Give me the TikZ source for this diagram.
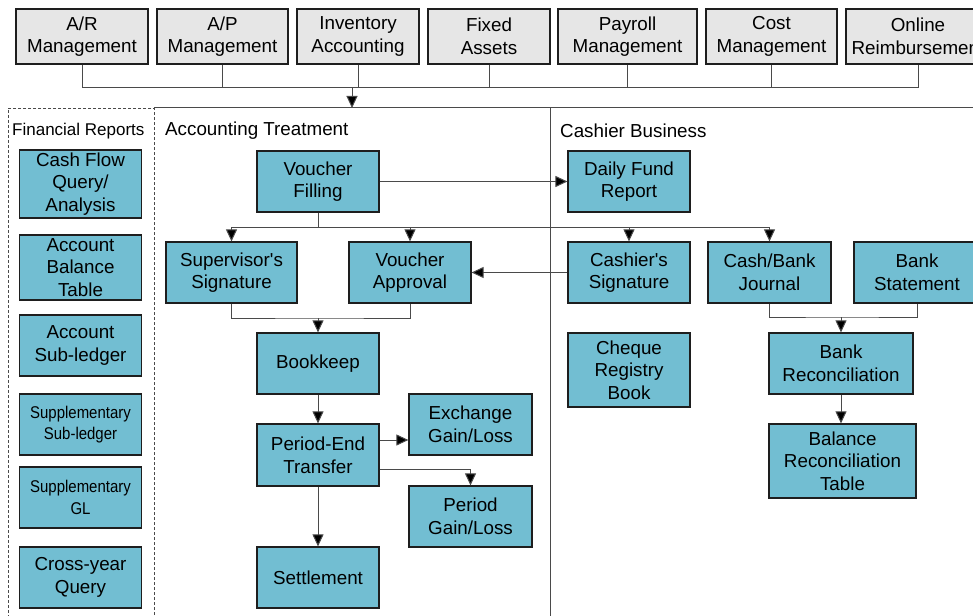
\documentclass[tikz,border=0pt]{standalone}
\usepackage{fontspec}
\setmainfont{Liberation Sans}[Ligatures=TeXOff]
\newfontfamily\narrowfont{Liberation Sans}[FakeStretch=0.88, Ligatures=TeXOff]
\usetikzlibrary{arrows.meta}
\definecolor{tealbox}{HTML}{72BED2}
\definecolor{grayfill}{HTML}{E6E6E6}
\definecolor{edge}{HTML}{1E1E1E}
\definecolor{wire}{HTML}{4A4A4A}
\tikzset{
  topbox/.style={draw=edge, line width=1.1pt, fill=grayfill, inner sep=0pt, align=center,
    font=\fontsize{18.8}{22.6}\selectfont},
  box/.style={draw=edge, line width=1.2pt, fill=tealbox, inner sep=0pt, align=center,
    font=\fontsize{18.8}{22.6}\selectfont},
  smallbox/.style={box, font=\narrowfont\fontsize{17}{21.5}\selectfont},
  lbl/.style={anchor=west, inner sep=0pt, font=\fontsize{18.8}{22.6}\selectfont},
  ln/.style={draw=wire, line width=1pt},
  arr/.style={ln, -{Triangle[length=12pt,width=11pt,fill=black]}},
  frame/.style={draw=wire, line width=1pt},
}
\begin{document}
\begin{tikzpicture}[x=1pt,y=-1pt]
\useasboundingbox (0,0) rectangle (973,615);
\clip (0,0) rectangle (973,615);
\fill[white] (0,0) rectangle (973,615);

% top modules
\node[topbox, minimum width=132pt, minimum height=55pt] (ar) at (82,36.5) {A/R\\Management};
\node[topbox, minimum width=131pt, minimum height=55pt] (ap) at (222.5,36.5) {A/P\\Management};
\node[topbox, minimum width=122pt, minimum height=55pt] (inv) at (358,36.5) {Inventory\\Accounting};
\node[topbox, minimum width=122pt, minimum height=55pt] (fa) at (489,36.5) {Fixed\\Assets};
\node[topbox, minimum width=139pt, minimum height=55pt] (pay) at (627.5,36.5) {Payroll\\Management};
\node[topbox, minimum width=131pt, minimum height=55pt] (cost) at (771.5,36.5) {Cost\\Management};
\node[topbox, minimum width=144pt, minimum height=55pt] (onl) at (918,36.5) {Online\\Reimbursement};

\coordinate (b0) at (352,88);
\coordinate (fr) at (352,108);
\draw[ln] (ar.south) |- (onl.south |- b0) -- (onl.south);
\foreach \n in {ap,inv,fa,pay,cost} \draw[ln] (\n.south) -- (\n.south |- b0);
\draw[arr] (b0) -- (fr);

% frame
\draw[frame] (154,108) -- (975,108);
\draw[frame] (550,108) -- (550,620);
\draw[wire, line width=0.9pt, dash pattern=on 3pt off 2pt] (154,620) -- (154,108) -- (8,108) -- (8,620);

\node[lbl, font=\fontsize{17}{20}\selectfont] (frl) at (12,131) {Financial Reports};
\node[lbl] (atl) at (165,131) {Accounting Treatment};
\node[lbl] (cbl) at (560,131) {Cashier Business};

% financial reports
\node[box, minimum width=122pt, minimum height=68pt] (cf) at (80.5,184) {Cash Flow\\Query/\\Analysis};
\node[box, minimum width=122pt, minimum height=65pt] (abt) at (80.5,267.5) {Account\\Balance\\Table};
\node[box, minimum width=122pt, minimum height=61pt] (asl) at (80.5,345.5) {Account\\Sub-ledger};
\node[smallbox, minimum width=122pt, minimum height=61pt] (ssl) at (80.5,424.5) {Supplementary\\Sub-ledger};
\node[smallbox, minimum width=122pt, minimum height=61pt] (sgl) at (80.5,497.5) {Supplementary\\GL};
\node[box, minimum width=122pt, minimum height=61pt] (cyq) at (80.5,577.5) {Cross-year\\Query};

% accounting treatment
\node[box, minimum width=122pt, minimum height=61pt] (vf) at (318,181.5) {Voucher\\Filling};
\node[box, minimum width=131pt, minimum height=61pt] (ss) at (231.5,272.5) {Supervisor's\\Signature};
\node[box, minimum width=122pt, minimum height=61pt] (va) at (410,272.5) {Voucher\\Approval};
\node[box, minimum width=122pt, minimum height=61pt] (bk) at (318,363.5) {Bookkeep};
\node[box, minimum width=122pt, minimum height=62pt] (pet) at (318,455) {Period-End\\Transfer};
\node[box, minimum width=123pt, minimum height=61pt] (egl) at (470.5,424.5) {Exchange\\Gain/Loss};
\node[box, minimum width=123pt, minimum height=61pt] (pgl) at (470.5,516.5) {Period\\Gain/Loss};
\node[box, minimum width=122pt, minimum height=61pt] (st) at (318,577.5) {Settlement};

% cashier business
\node[box, minimum width=122pt, minimum height=61pt] (dfr) at (629,181.5) {Daily Fund\\Report};
\node[box, minimum width=122pt, minimum height=61pt] (cs) at (629,272.5) {Cashier's\\Signature};
\node[box, minimum width=123pt, minimum height=61pt] (cbj) at (769.5,272.5) {Cash/Bank\\Journal};
\node[box, minimum width=126pt, minimum height=61pt] (bs) at (917,272.5) {Bank\\Statement};
\node[box, minimum width=122pt, minimum height=74pt] (crb) at (629,370) {Cheque\\Registry\\Book};
\node[box, minimum width=144pt, minimum height=61pt] (br) at (841,363.5) {Bank\\Reconciliation};
\node[box, minimum width=147pt, minimum height=74pt] (brt) at (842.5,461) {Balance\\Reconciliation\\Table};

% connectors
\draw[arr] (vf) -- (dfr);
\coordinate (b1) at (318,227);
\draw[ln] (vf.south) -- (b1);
\draw[arr] (b1) -| (ss.north);
\draw[arr] (b1) -| (va.north);
\draw[arr] (b1) -| (cs.north);
\draw[arr] (b1) -| (cbj.north);
\draw[arr] (cs.west) -- (va.east);

\coordinate (b2) at (318,318);
\draw[ln] (ss.south) |- (b2) -| (va.south);
\draw[arr] (b2) -- (bk.north);
\draw[arr] (bk.south) -- (pet.north);
\draw[arr] ([yshift=15pt]pet.east) -- ([yshift=15pt]pet.east -| egl.west);
\draw[arr] ([yshift=-14pt]pet.east) -| (pgl.north);
\draw[arr] (pet.south) -- (st.north);

\coordinate (b3) at (841,317);
\draw[ln] (cbj.south) |- (b3) -| (bs.south);
\draw[arr] (b3) -- (br.north);
\draw[arr] (br.south) -- (br.south |- brt.north);
\end{tikzpicture}
\end{document}
